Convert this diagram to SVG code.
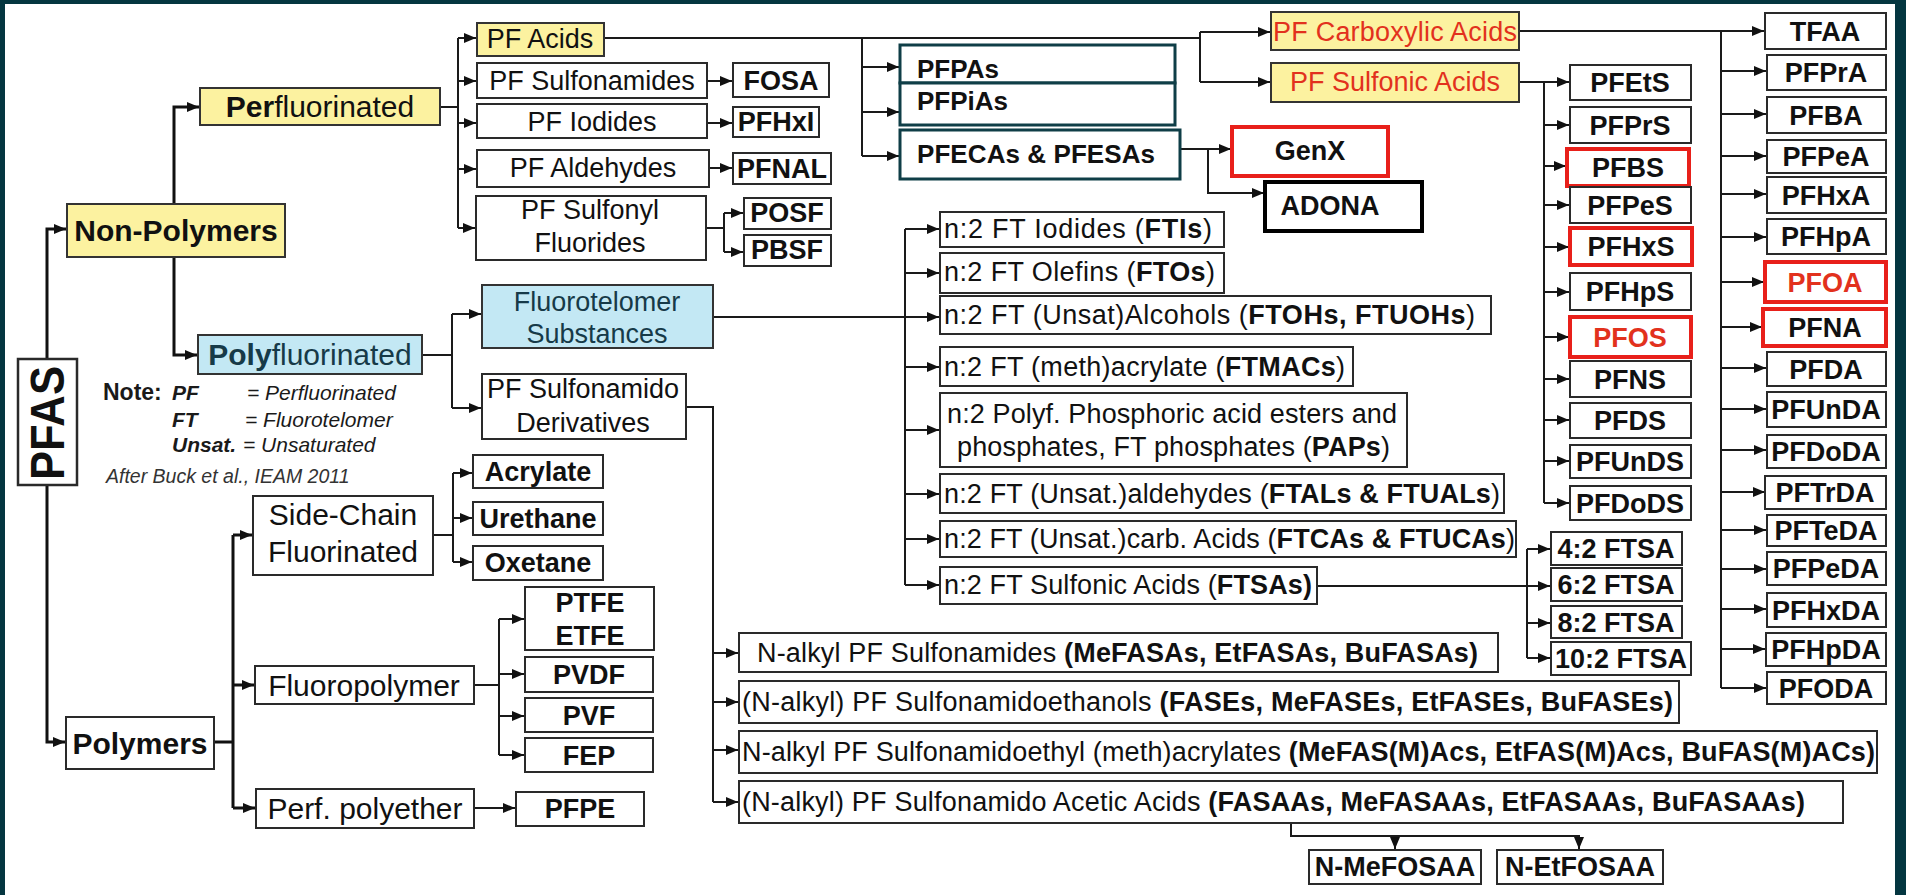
<svg xmlns="http://www.w3.org/2000/svg" width="1906" height="895" viewBox="0 0 1906 895">
<defs>
<marker id="ah" markerUnits="userSpaceOnUse" markerWidth="12" markerHeight="10" viewBox="0 0 12 10" refX="12" refY="5" orient="auto"><path d="M0,0 L12,5 L0,10 z" fill="#111"/></marker>
<style>
.box{fill:#fff;stroke:#2a2a2a;stroke-width:2}
.yel{fill:#fcf2a0;stroke:#333;stroke-width:2}
.blu{fill:#c3e8f4;stroke:#333;stroke-width:2}
.teal{fill:#fff;stroke:#0f3e47;stroke-width:3}
.red{fill:#fff;stroke:#e8201a;stroke-width:4}
.blk{fill:#fff;stroke:#000;stroke-width:4}
text{font-family:"Liberation Sans",Arial,sans-serif;fill:#111;font-size:27px}
.s26{font-size:26px}
.s30{font-size:30px}
.b{font-weight:bold}
.m{text-anchor:middle}
.rt{fill:#e2311d}
.dt{fill:#163a48}
.note{font-size:21px;font-style:italic;fill:#1a1a1a}
.c{fill:none;stroke:#1a1a1a;stroke-width:2}
.c3{fill:none;stroke:#111;stroke-width:3}
.a{marker-end:url(#ah)}
</style>
</defs>
<rect x="0" y="0" width="1906" height="895" fill="#043640"/>
<rect x="5" y="4" width="1890" height="891" fill="#fff"/>

<g id="connectors">
<path class="c3 a" d="M47,359 V229 H66"/>
<path class="c3 a" d="M47,485 V742 H65"/>
<path class="c3 a" d="M174,204 V107 H199"/>
<path class="c3 a" d="M174,257 V355 H197"/>
<path class="c3" d="M214,742 H233 M233,535 V808"/>
<path class="c3 a" d="M233,535 H252"/>
<path class="c3 a" d="M233,685 H254"/>
<path class="c3 a" d="M233,808 H255"/>

<path class="c" d="M440,107 H458 M458,38 V228"/>
<path class="c a" d="M458,38 H476"/>
<path class="c a" d="M458,81 H476"/>
<path class="c a" d="M458,123 H476"/>
<path class="c a" d="M458,169 H476"/>
<path class="c a" d="M458,228 H475"/>
<path class="c a" d="M707,81 H732"/>
<path class="c a" d="M707,123 H732"/>
<path class="c a" d="M709,168 H732"/>
<path class="c" d="M706,228 H724 M724,213 V252"/>
<path class="c a" d="M724,213 H743"/>
<path class="c a" d="M724,252 H743"/>

<path class="c" d="M604,38 H1200 M1200,32 V82 M862,38 V156"/>
<path class="c a" d="M1200,32 H1270"/>
<path class="c a" d="M1200,82 H1270"/>
<path class="c a" d="M862,67 H899"/>
<path class="c a" d="M862,112 H899"/>
<path class="c a" d="M862,156 H899"/>
<path class="c a" d="M1180,149 H1231"/>
<path class="c a" d="M1208,149 V193 H1264"/>

<path class="c a" d="M1519,31 H1764"/>
<path class="c" d="M1721,31 V688"/>
<path class="c a" d="M1721,71 H1766"/>
<path class="c a" d="M1721,114 H1766"/>
<path class="c a" d="M1721,156 H1766"/>
<path class="c a" d="M1721,194 H1766"/>
<path class="c a" d="M1721,237 H1766"/>
<path class="c a" d="M1721,282 H1764"/>
<path class="c a" d="M1721,327 H1762"/>
<path class="c a" d="M1721,368 H1766"/>
<path class="c a" d="M1721,409 H1766"/>
<path class="c a" d="M1721,450 H1766"/>
<path class="c a" d="M1721,492 H1765"/>
<path class="c a" d="M1721,530 H1766"/>
<path class="c a" d="M1721,569 H1766"/>
<path class="c a" d="M1721,609 H1766"/>
<path class="c a" d="M1721,649 H1765"/>
<path class="c a" d="M1721,688 H1766"/>

<path class="c a" d="M1519,82 H1569"/>
<path class="c" d="M1544,82 V503"/>
<path class="c a" d="M1544,125 H1569"/>
<path class="c a" d="M1544,166 H1566"/>
<path class="c a" d="M1544,205 H1569"/>
<path class="c a" d="M1544,247 H1569"/>
<path class="c a" d="M1544,292 H1569"/>
<path class="c a" d="M1544,337 H1569"/>
<path class="c a" d="M1544,379 H1569"/>
<path class="c a" d="M1544,420 H1569"/>
<path class="c a" d="M1544,461 H1569"/>
<path class="c a" d="M1544,503 H1569"/>

<path class="c" d="M422,355 H452 M452,314 V408"/>
<path class="c a" d="M452,314 H481"/>
<path class="c a" d="M452,408 H481"/>

<path class="c" d="M713,317 H905 M905,229 V585"/>
<path class="c a" d="M905,229 H939"/>
<path class="c a" d="M905,273 H939"/>
<path class="c a" d="M905,317 H939"/>
<path class="c a" d="M905,367 H939"/>
<path class="c a" d="M905,430 H939"/>
<path class="c a" d="M905,494 H939"/>
<path class="c a" d="M905,539 H939"/>
<path class="c a" d="M905,585 H939"/>

<path class="c a" d="M1317,586 H1550"/>
<path class="c" d="M1527,549 V658"/>
<path class="c a" d="M1527,549 H1550"/>
<path class="c a" d="M1527,623 H1550"/>
<path class="c a" d="M1527,658 H1550"/>

<path class="c" d="M686,407 H713 V802"/>
<path class="c a" d="M713,653 H738"/>
<path class="c a" d="M713,702 H738"/>
<path class="c a" d="M713,750 H738"/>
<path class="c a" d="M713,802 H738"/>

<path class="c a" d="M1291,823 V836 H1579 V849"/>
<path class="c a" d="M1395,836 V849"/>

<path class="c" d="M433,535 H453 M453,473 V562"/>
<path class="c a" d="M453,473 H472"/>
<path class="c a" d="M453,518 H472"/>
<path class="c a" d="M453,562 H472"/>

<path class="c" d="M474,685 H499 M499,619 V755"/>
<path class="c a" d="M499,619 H524"/>
<path class="c a" d="M499,674 H524"/>
<path class="c a" d="M499,716 H524"/>
<path class="c a" d="M499,755 H524"/>
<path class="c a" d="M474,808 H515"/>
</g>

<g id="pfas"><rect class="box" x="18" y="359" width="59" height="126" style="stroke-width:2.5"/><text class="b m" style="font-size:48px" transform="translate(64,423) rotate(-90)" textLength="114" lengthAdjust="spacingAndGlyphs">PFAS</text></g>
<g id="non-polymers"><rect class="yel" x="67" y="204" width="218" height="53"/><text class="b s30 m" x="176" y="241">Non-Polymers</text></g>
<g id="perfluorinated"><rect class="yel" x="200" y="88" width="240" height="37"/><text class="s30 m" x="320" y="117"><tspan class="b">Per</tspan>fluorinated</text></g>
<g id="polyfluorinated"><rect class="blu" x="198" y="335" width="224" height="39"/><text class="s30 m dt" x="310" y="365"><tspan class="b">Poly</tspan>fluorinated</text></g>
<g id="polymers"><rect class="box" x="66" y="717" width="148" height="52"/><text class="b s30 m" x="140" y="754">Polymers</text></g>

<g id="note">
<text x="103" y="400" class="b" style="font-size:23px;fill:#1a1a1a">Note:</text>
<text x="172" y="400" class="note b">PF</text>
<text x="247" y="400" class="note">= Perfluorinated</text>
<text x="172" y="427" class="note b">FT</text>
<text x="245" y="427" class="note">= Fluorotelomer</text>
<text x="172" y="452" class="note b">Unsat.</text>
<text x="243" y="452" class="note">= Unsaturated</text>
<text x="106" y="483" style="font-size:19.5px;font-style:italic;fill:#333">After Buck et al., IEAM 2011</text>
</g>

<g id="pf-acids"><rect class="yel" x="477" y="23" width="127" height="33"/><text class="m" x="540" y="48">PF Acids</text></g>
<g id="pf-sulfonamides"><rect class="box" x="477" y="63" width="230" height="35"/><text class="m" x="592" y="90">PF Sulfonamides</text></g>
<g id="fosa"><rect class="box" x="733" y="63" width="96" height="34"/><text class="b m" x="781" y="90">FOSA</text></g>
<g id="pf-iodides"><rect class="box" x="477" y="104" width="230" height="34"/><text class="m" x="592" y="131">PF Iodides</text></g>
<g id="pfhxi"><rect class="box" x="733" y="107" width="86" height="30"/><text class="b m" x="776" y="131">PFHxI</text></g>
<g id="pf-aldehydes"><rect class="box" x="477" y="150" width="232" height="37"/><text class="m" x="593" y="177">PF Aldehydes</text></g>
<g id="pfnal"><rect class="box" x="733" y="153" width="98" height="31"/><text class="b m" x="782" y="178">PFNAL</text></g>
<g id="pf-sulfonyl-fluorides"><rect class="box" x="476" y="196" width="230" height="64"/><text class="m" x="590" y="219">PF Sulfonyl</text><text class="m" x="590" y="252">Fluorides</text></g>
<g id="posf"><rect class="box" x="744" y="198" width="87" height="31"/><text class="b m" x="787" y="222">POSF</text></g>
<g id="pbsf"><rect class="box" x="744" y="235" width="87" height="31"/><text class="b m" x="787" y="259">PBSF</text></g>

<g id="pfpas"><rect class="teal" x="900" y="45" width="275" height="38"/><text class="b s26" x="917" y="78">PFPAs</text></g>
<g id="pfpias"><rect class="teal" x="900" y="83" width="275" height="42"/><text class="b s26" x="917" y="110">PFPiAs</text></g>
<g id="pfecas"><rect class="teal" x="900" y="130" width="280" height="49"/><text class="b s26" x="917" y="163" textLength="238">PFECAs &amp; PFESAs</text></g>
<g id="genx"><rect class="red" x="1232" y="127" width="156" height="49"/><text class="b m" x="1310" y="160">GenX</text></g>
<g id="adona"><rect class="blk" x="1265" y="182" width="157" height="49"/><text class="b m" x="1330" y="215">ADONA</text></g>

<g id="pf-carboxylic-acids"><rect class="yel" x="1271" y="12" width="248" height="38"/><text class="rt" x="1273" y="41" textLength="244">PF Carboxylic Acids</text></g>
<g id="pf-sulfonic-acids"><rect class="yel" x="1271" y="63" width="248" height="39"/><text class="rt m" x="1395" y="91">PF Sulfonic Acids</text></g>

<g id="tfaa"><rect class="box" x="1765" y="13" width="121" height="36"/><text class="b m" x="1825" y="41">TFAA</text></g>
<g id="pfpra"><rect class="box" x="1767" y="55" width="119" height="35"/><text class="b m" x="1826" y="82">PFPrA</text></g>
<g id="pfba"><rect class="box" x="1767" y="97" width="119" height="36"/><text class="b m" x="1826" y="125">PFBA</text></g>
<g id="pfpea"><rect class="box" x="1767" y="140" width="119" height="33"/><text class="b m" x="1826" y="166">PFPeA</text></g>
<g id="pfhxa"><rect class="box" x="1767" y="177" width="119" height="36"/><text class="b m" x="1826" y="205">PFHxA</text></g>
<g id="pfhpa"><rect class="box" x="1767" y="219" width="119" height="35"/><text class="b m" x="1826" y="246">PFHpA</text></g>
<g id="pfoa"><rect class="red" x="1765" y="262" width="121" height="40"/><text class="b m rt" x="1825" y="292">PFOA</text></g>
<g id="pfna"><rect class="red" x="1763" y="309" width="123" height="37"/><text class="b m" x="1825" y="337">PFNA</text></g>
<g id="pfda"><rect class="box" x="1767" y="352" width="119" height="34"/><text class="b m" x="1826" y="379">PFDA</text></g>
<g id="pfunda"><rect class="box" x="1767" y="392" width="119" height="35"/><text class="b m" x="1826" y="419">PFUnDA</text></g>
<g id="pfdoda"><rect class="box" x="1767" y="435" width="119" height="33"/><text class="b m" x="1826" y="461">PFDoDA</text></g>
<g id="pftrda"><rect class="box" x="1765" y="476" width="121" height="33"/><text class="b m" x="1825" y="502">PFTrDA</text></g>
<g id="pfteda"><rect class="box" x="1767" y="515" width="119" height="31"/><text class="b m" x="1826" y="540">PFTeDA</text></g>
<g id="pfpeda"><rect class="box" x="1767" y="552" width="119" height="33"/><text class="b m" x="1826" y="578">PFPeDA</text></g>
<g id="pfhxda"><rect class="box" x="1767" y="593" width="119" height="34"/><text class="b m" x="1826" y="620">PFHxDA</text></g>
<g id="pfhpda"><rect class="box" x="1766" y="633" width="120" height="33"/><text class="b m" x="1826" y="659">PFHpDA</text></g>
<g id="pfoda"><rect class="box" x="1767" y="672" width="119" height="32"/><text class="b m" x="1826" y="698">PFODA</text></g>

<g id="pfets"><rect class="box" x="1570" y="65" width="121" height="35"/><text class="b m" x="1630" y="92">PFEtS</text></g>
<g id="pfprs"><rect class="box" x="1570" y="107" width="121" height="36"/><text class="b m" x="1630" y="135">PFPrS</text></g>
<g id="pfbs"><rect class="red" x="1567" y="149" width="122" height="37"/><text class="b m" x="1628" y="177">PFBS</text></g>
<g id="pfpes"><rect class="box" x="1570" y="187" width="121" height="36"/><text class="b m" x="1630" y="215">PFPeS</text></g>
<g id="pfhxs"><rect class="red" x="1570" y="228" width="122" height="37"/><text class="b m" x="1631" y="256">PFHxS</text></g>
<g id="pfhps"><rect class="box" x="1570" y="273" width="121" height="37"/><text class="b m" x="1630" y="301">PFHpS</text></g>
<g id="pfos"><rect class="red" x="1570" y="317" width="121" height="40"/><text class="b m rt" x="1630" y="347">PFOS</text></g>
<g id="pfns"><rect class="box" x="1570" y="361" width="121" height="36"/><text class="b m" x="1630" y="389">PFNS</text></g>
<g id="pfds"><rect class="box" x="1570" y="403" width="121" height="35"/><text class="b m" x="1630" y="430">PFDS</text></g>
<g id="pfunds"><rect class="box" x="1570" y="445" width="121" height="33"/><text class="b m" x="1630" y="471">PFUnDS</text></g>
<g id="pfdods"><rect class="box" x="1570" y="486" width="121" height="34"/><text class="b m" x="1630" y="513">PFDoDS</text></g>

<g id="ftsa-4"><rect class="box" x="1551" y="532" width="131" height="33"/><text class="b m" x="1616" y="558">4:2 FTSA</text></g>
<g id="ftsa-6"><rect class="box" x="1551" y="568" width="131" height="33"/><text class="b m" x="1616" y="594">6:2 FTSA</text></g>
<g id="ftsa-8"><rect class="box" x="1551" y="606" width="131" height="32"/><text class="b m" x="1616" y="632">8:2 FTSA</text></g>
<g id="ftsa-10"><rect class="box" x="1551" y="642" width="140" height="33"/><text class="b m" x="1621" y="668">10:2 FTSA</text></g>

<g id="fluorotelomer-substances"><rect class="blu" x="482" y="285" width="231" height="63"/><text class="m dt" x="597" y="311">Fluorotelomer</text><text class="m dt" x="597" y="343">Substances</text></g>
<g id="pf-sulfonamido-derivatives"><rect class="box" x="482" y="374" width="204" height="65"/><text class="m" x="583" y="398">PF Sulfonamido</text><text class="m" x="583" y="432">Derivatives</text></g>

<g id="ftis"><rect class="box" x="940" y="212" width="284" height="35"/><text x="944" y="238" textLength="268">n:2 FT Iodides (<tspan class="b">FTIs</tspan>)</text></g>
<g id="ftos"><rect class="box" x="940" y="253" width="284" height="40"/><text x="944" y="281" textLength="271">n:2 FT Olefins (<tspan class="b">FTOs</tspan>)</text></g>
<g id="ftohs"><rect class="box" x="940" y="296" width="551" height="38"/><text x="944" y="324" textLength="531">n:2 FT (Unsat)Alcohols (<tspan class="b">FTOHs, FTUOHs</tspan>)</text></g>
<g id="ftmacs"><rect class="box" x="940" y="347" width="413" height="39"/><text x="944" y="376" textLength="401">n:2 FT (meth)acrylate (<tspan class="b">FTMACs</tspan>)</text></g>
<g id="paps"><rect class="box" x="940" y="393" width="467" height="74"/><text x="947" y="423" textLength="450">n:2 Polyf. Phosphoric acid esters and</text><text x="957" y="456" textLength="433">phosphates, FT phosphates (<tspan class="b">PAPs</tspan>)</text></g>
<g id="ftals"><rect class="box" x="940" y="474" width="564" height="39"/><text x="944" y="503" textLength="556">n:2 FT (Unsat.)aldehydes (<tspan class="b">FTALs &amp; FTUALs</tspan>)</text></g>
<g id="ftcas"><rect class="box" x="940" y="521" width="576" height="36"/><text x="944" y="548" textLength="571">n:2 FT (Unsat.)carb. Acids (<tspan class="b">FTCAs &amp; FTUCAs</tspan>)</text></g>
<g id="ftsas"><rect class="box" x="940" y="567" width="377" height="37"/><text x="944" y="594" textLength="368">n:2 FT Sulfonic Acids (<tspan class="b">FTSAs)</tspan></text></g>

<g id="side-chain"><rect class="box" x="253" y="496" width="180" height="79"/><text class="s30 m" x="343" y="525">Side-Chain</text><text class="s30 m" x="343" y="562">Fluorinated</text></g>
<g id="acrylate"><rect class="box" x="473" y="455" width="130" height="33"/><text class="b m" x="538" y="481">Acrylate</text></g>
<g id="urethane"><rect class="box" x="473" y="502" width="130" height="33"/><text class="b m" x="538" y="528">Urethane</text></g>
<g id="oxetane"><rect class="box" x="473" y="546" width="130" height="34"/><text class="b m" x="538" y="572">Oxetane</text></g>
<g id="fluoropolymer"><rect class="box" x="255" y="666" width="219" height="38"/><text class="s30 m" x="364" y="696">Fluoropolymer</text></g>
<g id="perf-polyether"><rect class="box" x="256" y="789" width="218" height="39"/><text class="s30 m" x="365" y="819">Perf. polyether</text></g>
<g id="ptfe-etfe"><rect class="box" x="525" y="587" width="129" height="63"/><text class="b m" x="590" y="612">PTFE</text><text class="b m" x="590" y="645">ETFE</text></g>
<g id="pvdf"><rect class="box" x="525" y="657" width="128" height="35"/><text class="b m" x="589" y="684">PVDF</text></g>
<g id="pvf"><rect class="box" x="525" y="698" width="128" height="34"/><text class="b m" x="589" y="725">PVF</text></g>
<g id="fep"><rect class="box" x="525" y="738" width="128" height="34"/><text class="b m" x="589" y="765">FEP</text></g>
<g id="pfpe"><rect class="box" x="516" y="792" width="128" height="34"/><text class="b m" x="580" y="818">PFPE</text></g>

<g id="n-alkyl-sulfonamides"><rect class="box" x="739" y="633" width="759" height="39"/><text x="757" y="662" textLength="721">N-alkyl PF Sulfonamides <tspan class="b">(MeFASAs, EtFASAs, BuFASAs)</tspan></text></g>
<g id="n-alkyl-ethanols"><rect class="box" x="739" y="681" width="940" height="42"/><text x="742" y="711" textLength="931">(N-alkyl) PF Sulfonamidoethanols <tspan class="b">(FASEs, MeFASEs, EtFASEs, BuFASEs)</tspan></text></g>
<g id="n-alkyl-acrylates"><rect class="box" x="739" y="731" width="1138" height="42"/><text x="742" y="761" textLength="1133">N-alkyl PF Sulfonamidoethyl (meth)acrylates <tspan class="b">(MeFAS(M)Acs, EtFAS(M)Acs, BuFAS(M)ACs)</tspan></text></g>
<g id="n-alkyl-acetic-acids"><rect class="box" x="739" y="781" width="1104" height="42"/><text x="742" y="811" textLength="1063">(N-alkyl) PF Sulfonamido Acetic Acids <tspan class="b">(FASAAs, MeFASAAs, EtFASAAs, BuFASAAs)</tspan></text></g>
<g id="n-mefosaa"><rect class="box" x="1309" y="850" width="172" height="34"/><text class="b m" x="1395" y="876">N-MeFOSAA</text></g>
<g id="n-etfosaa"><rect class="box" x="1497" y="850" width="166" height="34"/><text class="b m" x="1580" y="876">N-EtFOSAA</text></g>
</svg>
